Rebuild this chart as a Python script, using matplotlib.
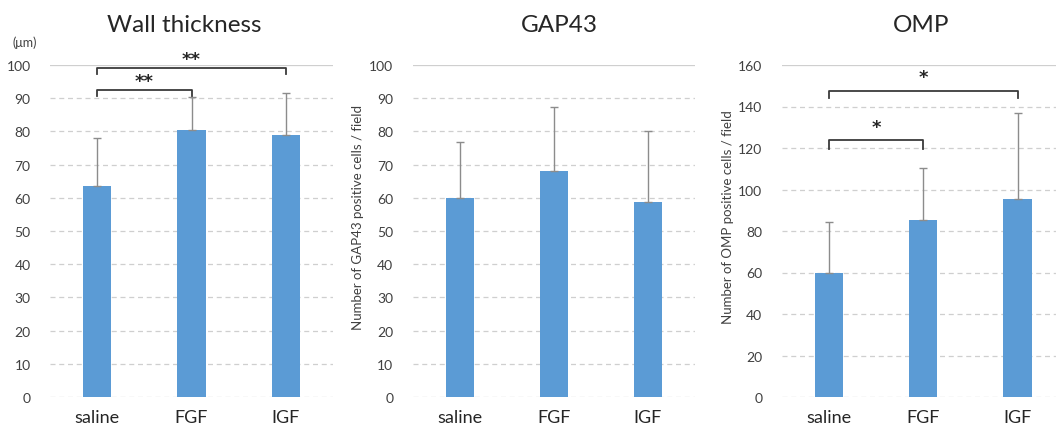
import matplotlib
matplotlib.use('Agg')
import matplotlib.pyplot as plt

plt.rcParams['font.family'] = ['Lato', 'DejaVu Sans']

groups = ['saline', 'FGF', 'IGF']

# Wall thickness (um)
wall_mean = [63.5, 80.3, 79.0]
wall_err = [14.5, 10.0, 12.6]

# GAP43 positive cells / field
gap_mean = [59.8, 68.0, 58.8]
gap_err = [17.1, 19.2, 21.4]

# OMP positive cells / field
omp_mean = [59.7, 85.1, 95.5]
omp_err = [24.6, 25.3, 41.6]

# brackets: (left group, right group, bar height, tick drop, label, label height)
wall_sig = [(0, 1, 92.6, 1.9, '**', 95.1), (0, 2, 99.2, 1.9, '**', 101.9)]
omp_sig = [(0, 1, 123.7, 4.0, '*', 129.9), (0, 2, 147.6, 3.4, '*', 154.0)]

bar_color = '#5B9BD5'

fig = plt.figure(figsize=(10.56, 4.35), dpi=100)

W, H = 1056.0, 435.0
bottom = 1 - 398 / H
height = (398 - 66) / H
ax1 = fig.add_axes([50 / W, bottom, 283 / W, height])
ax2 = fig.add_axes([412.7 / W, bottom, 282 / W, height])
ax3 = fig.add_axes([781.7 / W, bottom, 283 / W, height])


def draw(ax, means, errs, ymax, step):
    x = range(len(groups))
    ax.bar(x, means, width=0.3, color=bar_color, zorder=2)
    ax.errorbar(x, means, yerr=[[0] * len(errs), errs], fmt='none',
                ecolor='#8c8c8c', elinewidth=1, capsize=3, capthick=1, zorder=3)
    ax.set_xlim(-0.5, 2.5)
    ax.set_ylim(0, ymax)
    ax.set_yticks(range(0, ymax + 1, step))
    ax.set_xticks(list(x))
    ax.set_xticklabels(groups, fontsize=13, color='#262626')
    for s in ax.spines.values():
        s.set_visible(False)
    ax.tick_params(axis='both', length=0)
    ax.tick_params(axis='y', labelsize=10, pad=14, labelcolor='#404040')
    ax.tick_params(axis='x', pad=9)
    ax.grid(axis='y', color='#cfcfcf', linewidth=0.9, linestyle=(0, (4, 3)), zorder=0)
    ax.get_ygridlines()[-1].set_linestyle('-')
    ax.set_axisbelow(True)


def brackets(ax, sig):
    for a, b, y, drop, lab, ly in sig:
        ax.plot([a, a, b, b], [y - drop, y, y, y - drop], color='#3a3a3a',
                linewidth=1.3, clip_on=False, zorder=4)
        ax.text((a + b) / 2, ly, lab, ha='center', va='center', fontsize=13,
                fontweight='bold', color='#262626', family='DejaVu Sans')


draw(ax1, wall_mean, wall_err, 100, 10)
draw(ax2, gap_mean, gap_err, 100, 10)
draw(ax3, omp_mean, omp_err, 160, 20)

brackets(ax1, wall_sig)
brackets(ax3, omp_sig)

fig.text(184 / W, 1 - 25 / H, 'Wall thickness', ha='center', va='center', fontsize=17.5, color='#262626')
fig.text(559 / W, 1 - 25 / H, 'GAP43', ha='center', va='center', fontsize=17.5, color='#262626')
fig.text(921 / W, 1 - 25 / H, 'OMP', ha='center', va='center', fontsize=17.5, color='#262626')

fig.text(25 / W, 1 - 43 / H, '(μm)', ha='center', va='center', fontsize=9, color='#404040')

fig.text(358 / W, 1 - 217 / H, 'Number of GAP43 positive cells / field', rotation=90,
         ha='center', va='center', fontsize=9.5, color='#404040')
fig.text(728 / W, 1 - 217 / H, 'Number of OMP positive cells / field', rotation=90,
         ha='center', va='center', fontsize=9.5, color='#404040')

fig.savefig('out.png', dpi=100)
